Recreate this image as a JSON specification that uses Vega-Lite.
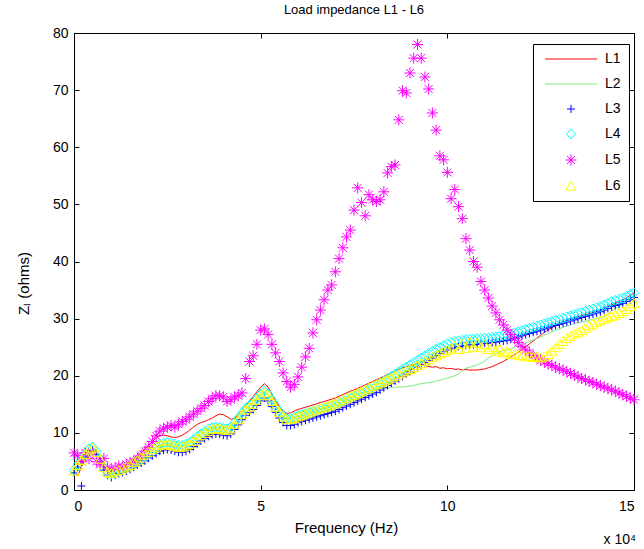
{
"$schema": "https://vega.github.io/schema/vega-lite/v6.json",
"width": 560, "height": 457,
"autosize": {"type": "none"},
"padding": {"left": 74, "top": 33, "right": 10, "bottom": 59},
"background": "white",
"config": {
  "font": "Liberation Sans",
  "view": {"stroke": "black", "strokeWidth": 1},
  "axis": {"grid": false, "domainColor": "black", "tickColor": "black", "labelColor": "black", "titleColor": "black", "labelFontSize": 14, "titleFontSize": 15, "titleFontWeight": "normal", "tickSize": -5, "domainWidth": 1, "tickWidth": 1}
},
"title": {"text": "Load impedance L1 - L6", "fontSize": 13, "fontWeight": "normal", "offset": 9, "color": "black", "font": "Liberation Sans"},
"data": {"values": [
{"f":0.0,"L1":3.0,"L2":3.2,"L3":3.0,"L4":3.5,"L5":6.5,"L6":3.3},
{"f":0.1,"L1":2.5,"L2":4.0,"L3":4.0,"L4":4.5,"L5":6.0,"L6":4.3},
{"f":0.2,"L1":4.0,"L2":5.0,"L3":0.7,"L4":5.5,"L5":5.0,"L6":5.2},
{"f":0.3,"L1":5.5,"L2":6.0,"L3":5.8,"L4":6.5,"L5":6.5,"L6":6.2},
{"f":0.4,"L1":6.5,"L2":6.8,"L3":6.6,"L4":7.2,"L5":5.5,"L6":7.0},
{"f":0.5,"L1":7.0,"L2":7.2,"L3":7.0,"L4":7.5,"L5":6.5,"L6":7.3},
{"f":0.6,"L1":6.5,"L2":6.6,"L3":6.2,"L4":6.8,"L5":5.0,"L6":6.6},
{"f":0.7,"L1":5.5,"L2":5.3,"L3":5.0,"L4":5.5,"L5":4.5,"L6":5.4},
{"f":0.8,"L1":4.2,"L2":3.9,"L3":3.5,"L4":4.0,"L5":5.5,"L6":3.9},
{"f":0.9,"L1":3.5,"L2":3.0,"L3":2.6,"L4":3.0,"L5":4.0,"L6":3.1},
{"f":1.0,"L1":3.3,"L2":2.8,"L3":2.2,"L4":2.8,"L5":3.5,"L6":2.9},
{"f":1.1,"L1":3.5,"L2":3.1,"L3":2.6,"L4":3.2,"L5":3.8,"L6":3.2},
{"f":1.2,"L1":3.8,"L2":3.4,"L3":2.9,"L4":3.5,"L5":4.2,"L6":3.4},
{"f":1.3,"L1":4.2,"L2":3.7,"L3":3.1,"L4":3.8,"L5":4.0,"L6":3.7},
{"f":1.4,"L1":4.5,"L2":3.9,"L3":3.3,"L4":4.0,"L5":4.5,"L6":4.0},
{"f":1.5,"L1":5.0,"L2":4.2,"L3":3.6,"L4":4.3,"L5":4.8,"L6":4.3},
{"f":1.6,"L1":5.5,"L2":4.7,"L3":4.0,"L4":4.8,"L5":5.0,"L6":4.8},
{"f":1.7,"L1":6.0,"L2":5.1,"L3":4.4,"L4":5.2,"L5":5.5,"L6":5.2},
{"f":1.8,"L1":6.5,"L2":5.4,"L3":4.7,"L4":5.5,"L5":6.0,"L6":5.6},
{"f":1.9,"L1":7.2,"L2":5.9,"L3":5.1,"L4":6.0,"L5":6.8,"L6":6.1},
{"f":2.0,"L1":7.8,"L2":6.4,"L3":5.6,"L4":6.5,"L5":7.5,"L6":6.6},
{"f":2.1,"L1":8.5,"L2":6.9,"L3":6.0,"L4":7.0,"L5":8.5,"L6":7.1},
{"f":2.2,"L1":9.2,"L2":7.4,"L3":6.4,"L4":7.5,"L5":9.5,"L6":7.5},
{"f":2.3,"L1":9.5,"L2":7.9,"L3":6.8,"L4":8.0,"L5":10.3,"L6":7.8},
{"f":2.4,"L1":9.6,"L2":8.1,"L3":7.0,"L4":8.2,"L5":10.8,"L6":7.9},
{"f":2.5,"L1":9.5,"L2":8.2,"L3":7.1,"L4":8.3,"L5":11.0,"L6":8.0},
{"f":2.6,"L1":9.3,"L2":8.1,"L3":7.0,"L4":8.2,"L5":11.3,"L6":7.8},
{"f":2.7,"L1":9.2,"L2":7.9,"L3":6.8,"L4":8.0,"L5":11.0,"L6":7.6},
{"f":2.8,"L1":9.3,"L2":7.7,"L3":6.6,"L4":7.8,"L5":11.5,"L6":7.4},
{"f":2.9,"L1":9.6,"L2":7.7,"L3":6.6,"L4":7.8,"L5":12.0,"L6":7.5},
{"f":3.0,"L1":10.0,"L2":7.9,"L3":6.8,"L4":8.0,"L5":12.3,"L6":7.7},
{"f":3.1,"L1":10.5,"L2":8.2,"L3":7.1,"L4":8.3,"L5":12.8,"L6":8.0},
{"f":3.2,"L1":11.0,"L2":8.7,"L3":7.6,"L4":8.8,"L5":13.3,"L6":8.5},
{"f":3.3,"L1":11.5,"L2":9.2,"L3":8.1,"L4":9.3,"L5":13.8,"L6":9.0},
{"f":3.4,"L1":11.8,"L2":9.7,"L3":8.6,"L4":9.8,"L5":14.3,"L6":9.5},
{"f":3.5,"L1":12.0,"L2":10.1,"L3":9.0,"L4":10.2,"L5":14.8,"L6":9.9},
{"f":3.6,"L1":12.3,"L2":10.5,"L3":9.4,"L4":10.6,"L5":15.5,"L6":10.3},
{"f":3.7,"L1":12.6,"L2":10.8,"L3":9.7,"L4":10.9,"L5":16.0,"L6":10.6},
{"f":3.8,"L1":13.0,"L2":10.9,"L3":9.8,"L4":11.0,"L5":16.5,"L6":10.7},
{"f":3.9,"L1":13.3,"L2":10.9,"L3":9.8,"L4":11.0,"L5":16.5,"L6":10.7},
{"f":4.0,"L1":13.2,"L2":10.7,"L3":9.6,"L4":10.8,"L5":16.3,"L6":10.5},
{"f":4.1,"L1":12.8,"L2":10.6,"L3":9.5,"L4":10.7,"L5":15.5,"L6":10.4},
{"f":4.2,"L1":12.4,"L2":10.9,"L3":9.8,"L4":11.0,"L5":15.8,"L6":10.7},
{"f":4.3,"L1":12.5,"L2":11.7,"L3":10.6,"L4":11.8,"L5":16.3,"L6":11.5},
{"f":4.4,"L1":13.2,"L2":12.5,"L3":11.4,"L4":12.6,"L5":16.5,"L6":12.3},
{"f":4.5,"L1":14.0,"L2":13.4,"L3":12.3,"L4":13.5,"L5":17.0,"L6":13.2},
{"f":4.6,"L1":14.8,"L2":14.2,"L3":13.1,"L4":14.3,"L5":19.5,"L6":14.0},
{"f":4.7,"L1":15.6,"L2":14.7,"L3":13.6,"L4":14.8,"L5":22.5,"L6":14.5},
{"f":4.8,"L1":16.4,"L2":15.2,"L3":14.1,"L4":15.3,"L5":23.5,"L6":15.0},
{"f":4.9,"L1":17.2,"L2":15.9,"L3":14.8,"L4":16.0,"L5":25.5,"L6":15.7},
{"f":5.0,"L1":18.0,"L2":16.7,"L3":15.6,"L4":16.8,"L5":28.0,"L6":16.5},
{"f":5.1,"L1":18.6,"L2":17.2,"L3":16.1,"L4":17.3,"L5":28.2,"L6":17.0},
{"f":5.2,"L1":18.0,"L2":16.7,"L3":15.6,"L4":16.8,"L5":27.2,"L6":16.5},
{"f":5.3,"L1":16.8,"L2":15.7,"L3":14.6,"L4":15.8,"L5":25.5,"L6":15.5},
{"f":5.4,"L1":15.6,"L2":14.7,"L3":13.6,"L4":14.8,"L5":24.0,"L6":14.5},
{"f":5.5,"L1":14.6,"L2":13.7,"L3":12.6,"L4":13.8,"L5":22.5,"L6":13.6},
{"f":5.6,"L1":13.8,"L2":12.9,"L3":11.8,"L4":13.0,"L5":20.5,"L6":12.8},
{"f":5.7,"L1":13.4,"L2":12.4,"L3":11.3,"L4":12.5,"L5":19.0,"L6":12.3},
{"f":5.8,"L1":13.5,"L2":12.4,"L3":11.3,"L4":12.5,"L5":18.0,"L6":12.3},
{"f":5.9,"L1":13.8,"L2":12.6,"L3":11.5,"L4":12.7,"L5":18.5,"L6":12.5},
{"f":6.0,"L1":14.1,"L2":12.9,"L3":11.8,"L4":13.0,"L5":19.8,"L6":12.8},
{"f":6.1,"L1":14.3,"L2":13.1,"L3":12.0,"L4":13.2,"L5":21.5,"L6":13.0},
{"f":6.2,"L1":14.5,"L2":13.3,"L3":12.2,"L4":13.4,"L5":23.3,"L6":13.3},
{"f":6.3,"L1":14.7,"L2":13.5,"L3":12.4,"L4":13.6,"L5":24.8,"L6":13.5},
{"f":6.4,"L1":14.9,"L2":13.7,"L3":12.6,"L4":13.8,"L5":27.5,"L6":13.8},
{"f":6.5,"L1":15.1,"L2":13.9,"L3":12.8,"L4":14.0,"L5":29.8,"L6":14.0},
{"f":6.6,"L1":15.3,"L2":14.1,"L3":13.0,"L4":14.2,"L5":31.5,"L6":14.2},
{"f":6.7,"L1":15.5,"L2":14.3,"L3":13.2,"L4":14.4,"L5":33.3,"L6":14.4},
{"f":6.8,"L1":15.7,"L2":14.5,"L3":13.4,"L4":14.6,"L5":35.0,"L6":14.7},
{"f":6.9,"L1":15.9,"L2":14.7,"L3":13.6,"L4":14.8,"L5":35.9,"L6":14.9},
{"f":7.0,"L1":16.1,"L2":14.9,"L3":13.8,"L4":15.0,"L5":38.2,"L6":15.1},
{"f":7.1,"L1":16.4,"L2":15.2,"L3":14.1,"L4":15.3,"L5":40.5,"L6":15.4},
{"f":7.2,"L1":16.7,"L2":15.5,"L3":14.4,"L4":15.6,"L5":42.4,"L6":15.7},
{"f":7.3,"L1":17.0,"L2":15.8,"L3":14.7,"L4":15.9,"L5":44.3,"L6":16.0},
{"f":7.4,"L1":17.3,"L2":16.1,"L3":15.0,"L4":16.2,"L5":45.5,"L6":16.3},
{"f":7.5,"L1":17.5,"L2":16.4,"L3":15.3,"L4":16.5,"L5":49.0,"L6":16.6},
{"f":7.6,"L1":17.8,"L2":16.7,"L3":15.6,"L4":16.8,"L5":52.9,"L6":16.9},
{"f":7.7,"L1":18.1,"L2":17.0,"L3":15.9,"L4":17.1,"L5":50.3,"L6":17.2},
{"f":7.8,"L1":18.4,"L2":17.2,"L3":16.2,"L4":17.4,"L5":48.0,"L6":17.5},
{"f":7.9,"L1":18.7,"L2":17.4,"L3":16.5,"L4":17.7,"L5":51.7,"L6":17.8},
{"f":8.0,"L1":19.0,"L2":17.5,"L3":16.8,"L4":18.0,"L5":50.8,"L6":18.1},
{"f":8.1,"L1":19.3,"L2":17.6,"L3":17.1,"L4":18.3,"L5":50.5,"L6":18.4},
{"f":8.2,"L1":19.6,"L2":17.7,"L3":17.5,"L4":18.7,"L5":50.8,"L6":18.7},
{"f":8.3,"L1":19.9,"L2":17.8,"L3":17.9,"L4":19.1,"L5":52.2,"L6":19.0},
{"f":8.4,"L1":20.2,"L2":17.9,"L3":18.3,"L4":19.5,"L5":55.5,"L6":19.3},
{"f":8.5,"L1":20.5,"L2":18.0,"L3":18.7,"L4":19.9,"L5":56.6,"L6":19.6},
{"f":8.6,"L1":20.8,"L2":18.0,"L3":19.1,"L4":20.3,"L5":56.9,"L6":19.9},
{"f":8.7,"L1":21.1,"L2":18.0,"L3":19.5,"L4":20.7,"L5":64.8,"L6":20.2},
{"f":8.8,"L1":21.4,"L2":18.0,"L3":19.9,"L4":21.1,"L5":69.9,"L6":20.5},
{"f":8.9,"L1":21.6,"L2":18.1,"L3":20.3,"L4":21.5,"L5":69.5,"L6":20.8},
{"f":9.0,"L1":21.8,"L2":18.2,"L3":20.7,"L4":21.9,"L5":73.0,"L6":21.1},
{"f":9.1,"L1":22.0,"L2":18.3,"L3":21.1,"L4":22.3,"L5":75.6,"L6":21.4},
{"f":9.2,"L1":22.0,"L2":18.5,"L3":21.5,"L4":22.7,"L5":78.0,"L6":21.8},
{"f":9.3,"L1":21.9,"L2":18.6,"L3":21.9,"L4":23.1,"L5":75.6,"L6":22.1},
{"f":9.4,"L1":21.8,"L2":18.7,"L3":22.3,"L4":23.5,"L5":72.3,"L6":22.5},
{"f":9.5,"L1":21.6,"L2":18.8,"L3":22.7,"L4":23.9,"L5":70.2,"L6":22.8},
{"f":9.6,"L1":21.5,"L2":18.9,"L3":23.1,"L4":24.3,"L5":66.0,"L6":23.2},
{"f":9.7,"L1":21.6,"L2":19.1,"L3":23.5,"L4":24.7,"L5":63.0,"L6":23.5},
{"f":9.8,"L1":21.3,"L2":19.2,"L3":23.9,"L4":25.0,"L5":58.5,"L6":23.8},
{"f":9.9,"L1":21.4,"L2":19.4,"L3":24.2,"L4":25.3,"L5":57.8,"L6":24.1},
{"f":10.0,"L1":21.2,"L2":19.6,"L3":24.5,"L4":25.6,"L5":55.6,"L6":24.4},
{"f":10.1,"L1":21.3,"L2":19.8,"L3":24.7,"L4":25.8,"L5":51.0,"L6":24.7},
{"f":10.2,"L1":21.1,"L2":20.0,"L3":24.9,"L4":26.0,"L5":52.6,"L6":25.2},
{"f":10.3,"L1":21.2,"L2":20.3,"L3":25.1,"L4":26.1,"L5":49.6,"L6":24.6},
{"f":10.4,"L1":21.0,"L2":21.0,"L3":25.2,"L4":26.2,"L5":47.5,"L6":25.5},
{"f":10.5,"L1":21.1,"L2":21.3,"L3":25.3,"L4":26.3,"L5":44.0,"L6":24.8},
{"f":10.6,"L1":21.0,"L2":21.5,"L3":25.4,"L4":26.4,"L5":42.0,"L6":25.9},
{"f":10.7,"L1":21.0,"L2":21.7,"L3":25.4,"L4":26.4,"L5":40.0,"L6":25.0},
{"f":10.8,"L1":21.0,"L2":21.9,"L3":25.5,"L4":26.5,"L5":39.0,"L6":25.7},
{"f":10.9,"L1":21.1,"L2":22.2,"L3":25.6,"L4":26.5,"L5":36.5,"L6":24.9},
{"f":11.0,"L1":21.2,"L2":22.6,"L3":25.7,"L4":26.6,"L5":35.0,"L6":25.4},
{"f":11.1,"L1":21.4,"L2":23.1,"L3":25.7,"L4":26.6,"L5":33.6,"L6":24.6},
{"f":11.2,"L1":21.6,"L2":23.5,"L3":25.8,"L4":26.7,"L5":32.2,"L6":25.0},
{"f":11.3,"L1":21.9,"L2":23.9,"L3":25.9,"L4":26.8,"L5":31.0,"L6":24.3},
{"f":11.4,"L1":22.2,"L2":24.2,"L3":26.0,"L4":26.9,"L5":29.8,"L6":24.6},
{"f":11.5,"L1":22.5,"L2":24.4,"L3":26.1,"L4":27.0,"L5":28.9,"L6":24.0},
{"f":11.6,"L1":22.9,"L2":24.5,"L3":26.2,"L4":27.1,"L5":28.0,"L6":24.2},
{"f":11.7,"L1":23.3,"L2":24.7,"L3":26.4,"L4":27.3,"L5":27.2,"L6":23.7},
{"f":11.8,"L1":23.7,"L2":25.0,"L3":26.6,"L4":27.5,"L5":26.5,"L6":23.8},
{"f":11.9,"L1":24.1,"L2":25.2,"L3":26.8,"L4":27.7,"L5":25.8,"L6":23.5},
{"f":12.0,"L1":24.6,"L2":25.5,"L3":27.0,"L4":27.9,"L5":25.1,"L6":23.6},
{"f":12.1,"L1":25.1,"L2":25.8,"L3":27.2,"L4":28.1,"L5":24.5,"L6":23.3},
{"f":12.2,"L1":25.6,"L2":26.0,"L3":27.4,"L4":28.3,"L5":24.0,"L6":23.4},
{"f":12.3,"L1":26.1,"L2":26.3,"L3":27.6,"L4":28.5,"L5":23.5,"L6":23.2},
{"f":12.4,"L1":26.6,"L2":26.5,"L3":27.8,"L4":28.7,"L5":23.1,"L6":23.3},
{"f":12.5,"L1":27.1,"L2":26.8,"L3":28.0,"L4":28.9,"L5":22.7,"L6":23.1},
{"f":12.6,"L1":27.6,"L2":27.1,"L3":28.2,"L4":29.1,"L5":22.4,"L6":23.3},
{"f":12.7,"L1":28.0,"L2":27.4,"L3":28.4,"L4":29.3,"L5":22.1,"L6":23.7},
{"f":12.8,"L1":28.4,"L2":27.7,"L3":28.6,"L4":29.5,"L5":21.8,"L6":24.3},
{"f":12.9,"L1":28.8,"L2":28.0,"L3":28.8,"L4":29.7,"L5":21.5,"L6":24.9},
{"f":13.0,"L1":29.1,"L2":28.2,"L3":29.0,"L4":29.9,"L5":21.2,"L6":25.5},
{"f":13.1,"L1":29.4,"L2":28.5,"L3":29.2,"L4":30.1,"L5":21.0,"L6":26.0},
{"f":13.2,"L1":29.7,"L2":28.7,"L3":29.4,"L4":30.3,"L5":20.7,"L6":26.5},
{"f":13.3,"L1":29.9,"L2":28.9,"L3":29.6,"L4":30.5,"L5":20.4,"L6":26.9},
{"f":13.4,"L1":30.1,"L2":29.1,"L3":29.8,"L4":30.7,"L5":20.1,"L6":27.3},
{"f":13.5,"L1":30.3,"L2":29.3,"L3":30.0,"L4":30.9,"L5":19.8,"L6":27.6},
{"f":13.6,"L1":30.5,"L2":29.4,"L3":30.2,"L4":31.1,"L5":19.5,"L6":27.9},
{"f":13.7,"L1":30.7,"L2":29.5,"L3":30.4,"L4":31.3,"L5":19.3,"L6":28.3},
{"f":13.8,"L1":30.9,"L2":29.7,"L3":30.6,"L4":31.5,"L5":19.0,"L6":28.7},
{"f":13.9,"L1":31.1,"L2":29.9,"L3":30.8,"L4":31.7,"L5":18.8,"L6":29.0},
{"f":14.0,"L1":31.3,"L2":30.0,"L3":31.0,"L4":31.9,"L5":18.5,"L6":29.3},
{"f":14.1,"L1":31.5,"L2":30.1,"L3":31.2,"L4":32.1,"L5":18.3,"L6":29.6},
{"f":14.2,"L1":31.8,"L2":30.4,"L3":31.5,"L4":32.4,"L5":18.0,"L6":29.9},
{"f":14.3,"L1":32.1,"L2":30.8,"L3":31.8,"L4":32.7,"L5":17.8,"L6":30.2},
{"f":14.4,"L1":32.4,"L2":31.3,"L3":32.1,"L4":33.0,"L5":17.5,"L6":30.4},
{"f":14.5,"L1":32.7,"L2":31.8,"L3":32.3,"L4":33.2,"L5":17.3,"L6":30.6},
{"f":14.6,"L1":33.0,"L2":32.1,"L3":32.5,"L4":33.4,"L5":17.0,"L6":30.9},
{"f":14.7,"L1":33.3,"L2":32.5,"L3":32.7,"L4":33.6,"L5":16.7,"L6":31.2},
{"f":14.8,"L1":33.7,"L2":32.8,"L3":33.0,"L4":33.9,"L5":16.4,"L6":31.6},
{"f":14.9,"L1":34.1,"L2":33.2,"L3":33.3,"L4":34.2,"L5":16.1,"L6":32.1},
{"f":15.0,"L1":34.5,"L2":33.5,"L3":33.7,"L4":34.5,"L5":15.8,"L6":32.6}
]},
"layer": [
  {
    "transform": [
      {"fold": ["L1","L2","L3","L4","L5","L6"], "as": ["series","z"]},
      {"filter": "datum.series === 'L1' || datum.series === 'L2'"}
    ],
    "mark": {"type": "line", "strokeWidth": 1},
    "encoding": {
      "x": {"field": "f", "type": "quantitative", "scale": {"domain": [0, 15], "nice": false, "zero": false},
            "axis": {"orient": "bottom", "values": [0,5,10,15], "title": "Frequency (Hz)", "labelPadding": 14, "titlePadding": 7, "titleX": 272}},
      "y": {"field": "z", "type": "quantitative", "scale": {"domain": [0, 80], "nice": false},
            "axis": {"orient": "left", "values": [0,10,20,30,40,50,60,70,80], "title": "Zₗ (ohms)", "labelPadding": 11, "titleX": -43, "titleY": 250}},
      "stroke": {"field": "series", "type": "nominal",
                "scale": {"domain": ["L1","L2","L3","L4","L5","L6"], "range": ["#ff0000","#80e880","#0000ff","#00ffff","#ff00ff","#ffff00"]},
                "legend": {"title": null, "orient": "none", "legendX": 459, "legendY": 11, "padding": 8, "strokeColor": "black", "fillColor": "white",
                           "symbolSize": 100, "symbolOffset": 23, "labelOffset": 27, "labelFontSize": 14, "labelColor": "black", "rowPadding": 11, "symbolStrokeWidth": 1,
                           "encode": {"symbols": {"update": {"fill": {"value": "transparent"}}}}}}
    }
  },
  {
    "transform": [
      {"fold": ["L1","L2","L3","L4","L5","L6"], "as": ["series","z"]},
      {"filter": "datum.series !== 'L1' && datum.series !== 'L2'"}
    ],
    "mark": {"type": "point", "filled": false, "fill": "transparent", "size": 100, "strokeWidth": 1, "opacity": 1},
    "encoding": {
      "x": {"field": "f", "type": "quantitative", "axis": {"orient": "top", "values": [0,5,10,15], "labels": false, "title": null}},
      "y": {"field": "z", "type": "quantitative", "axis": {"orient": "right", "values": [0,10,20,30,40,50,60,70,80], "labels": false, "title": null}},
      "stroke": {"field": "series", "type": "nominal"},
      "shape": {"field": "series", "type": "nominal",
                "scale": {"domain": ["L1","L2","L3","L4","L5","L6"], "range": ["M-5.2,0H5.2","M-5.2,0H5.2","M-0.8,0H0.8M0,-0.8V0.8","M0,-1L0.9,0L0,1L-0.9,0Z","M-1.1,0H1.1M0,-1.1V1.1M-0.8,-0.8L0.8,0.8M-0.8,0.8L0.8,-0.8","M0,-1L1,0.8L-1,0.8Z"]},
                "legend": {"title": null, "orient": "none", "legendX": 459, "legendY": 11, "padding": 8, "strokeColor": "black", "fillColor": "white",
                           "symbolSize": 100, "symbolOffset": 23, "labelOffset": 27, "labelFontSize": 14, "labelColor": "black", "rowPadding": 11, "symbolStrokeWidth": 1,
                           "encode": {"symbols": {"update": {"fill": {"value": "transparent"}}}}}},
      "order": {"field": "series", "type": "ordinal"}
    }
  },
  {
    "data": {"values": [{"t": "x 10⁴"}]},
    "mark": {"type": "text", "align": "right", "baseline": "middle", "dy": 50, "dx": 2, "fontSize": 14, "font": "Liberation Sans", "color": "black"},
    "encoding": {
      "x": {"datum": 15, "type": "quantitative", "axis": null},
      "y": {"datum": 0, "type": "quantitative", "axis": null},
      "text": {"field": "t"}
    }
  }
],
"resolve": {"axis": {"x": "independent", "y": "independent"}}
}
